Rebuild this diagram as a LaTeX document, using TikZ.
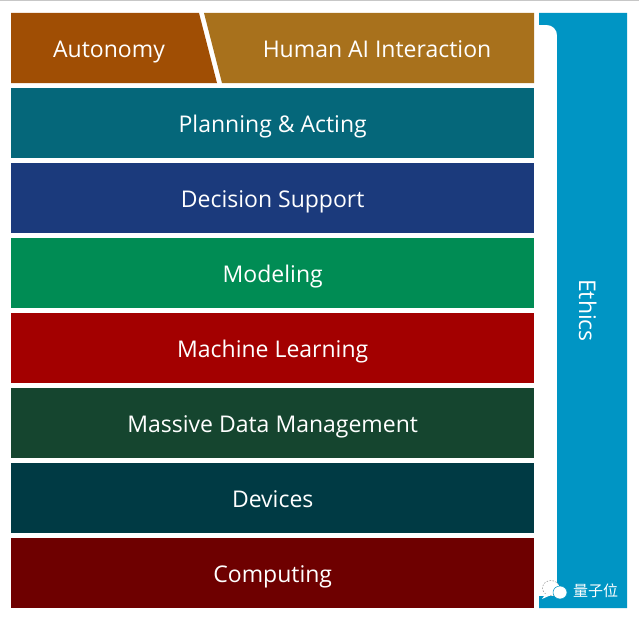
\documentclass[tikz,border=0pt]{standalone}
\usepackage{fontspec}
\setmainfont{Open Sans}
\newfontfamily\cjkf{Noto Sans CJK SC}
\definecolor{cAuto}{HTML}{A04E04}
\definecolor{cHuman}{HTML}{A8711C}
\definecolor{cPlan}{HTML}{05677A}
\definecolor{cDeci}{HTML}{1B3A7C}
\definecolor{cMode}{HTML}{008C54}
\definecolor{cMach}{HTML}{A30000}
\definecolor{cMass}{HTML}{15452F}
\definecolor{cDevi}{HTML}{003A44}
\definecolor{cComp}{HTML}{6E0000}
\definecolor{cEthi}{HTML}{0095C4}
\tikzset{
  lab/.style={text=white,inner sep=0pt,text height=18pt,text depth=0pt,font=\fontsize{23}{26}\selectfont},
  bar/.style={lab,fill=#1,minimum width=523pt,minimum height=70pt,anchor=north west}
}
\begin{document}
\begin{tikzpicture}[x=1pt,y=-1pt]
\useasboundingbox (0,0) rectangle (639,618);
\fill[white] (0,0) rectangle (639,618);
\fill[black!22] (0,0) rectangle (639,1.5);
% top row
\fill[cAuto] (11,13) -- (199,13) -- (217,83) -- (11,83) -- cycle;
\fill[cHuman] (204,13) -- (534,13) -- (534,83) -- (222,83) -- cycle;
\node[lab] (autonomy) at (109,49) {Autonomy};
\node[lab] (human) at (377,49) {Human AI Interaction};
% bars
\node[bar=cPlan] (planning) at (11,88) {Planning \& Acting};
\node[bar=cDeci] (decision) at (11,163) {Decision Support};
\node[bar=cMode] (modeling) at (11,238) {Modeling};
\node[bar=cMach] (learning) at (11,313) {Machine Learning};
\node[bar=cMass] (massive) at (11,388) {Massive Data Management};
\node[bar=cDevi] (devices) at (11,463) {Devices};
\node[bar=cComp] (computing) at (11,538) {Computing};
% ethics
\fill[cEthi] (539,13) -- (627,13) -- (627,608) -- (539,608) -- (539,596) -- (557,596)
  -- (557,35) arc[start angle=0,end angle=90,x radius=10,y radius=-10] -- (539,25) -- cycle;
\node[lab,rotate=-90] (ethics) at (588,310.5) {Ethics};
% watermark
\fill[white] (551,588) ellipse[x radius=8.5,y radius=7.5];
\draw[black!45,line width=0.5pt,dash pattern=on 1.5pt off 1.5pt] (551,588) ellipse[x radius=8.5,y radius=7.5];
\fill[white] (546,593) -- (542,599) -- (551,595) -- cycle;
\fill[white,draw=cEthi,line width=0.5pt] (560,592.5) ellipse[x radius=7,y radius=6.5];
\node[text=white,inner sep=0pt,font=\cjkf\fontsize{15}{17}\selectfont] (mark) at (595.5,591) {量子位};
\end{tikzpicture}
\end{document}
